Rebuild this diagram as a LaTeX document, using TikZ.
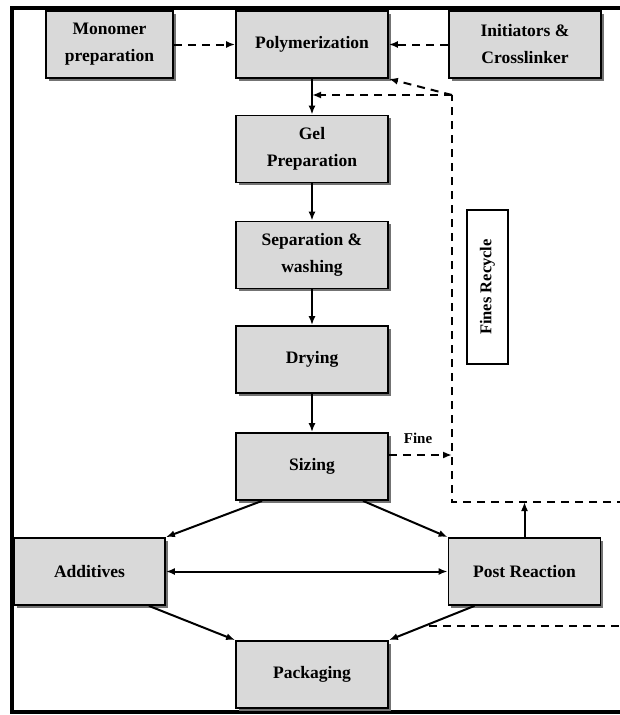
\documentclass[tikz,border=0pt]{standalone}
\usepackage{fontspec}
\setmainfont{Liberation Serif}
\usepackage{xcolor}
\usetikzlibrary{shadows,arrows.meta}
\begin{document}
\begin{tikzpicture}[x=1pt,y=-1pt,>={Latex[length=9pt,width=7pt]},
	khoi/.style={draw,line width=1.8pt,fill=gray!30,minimum width=152pt,minimum height=67pt,align=center,
		font=\bfseries\fontsize{17.5}{27}\selectfont,
		drop shadow={shadow xshift=2.5pt,shadow yshift=-2.5pt,fill=black!55,opacity=1}},
	mui/.style={->,line width=2pt},
	netdut/.style={line width=2pt,dash pattern=on 8pt off 6pt}]
			\useasboundingbox (0,0) rectangle (620,715);
			\clip (0,0) rectangle (620,715);
			% Khung
			\draw [line width=3.5pt] (12,8) rectangle (650,712);
			% Các khối
			\node [khoi,minimum width=127pt] (mono) at (109.5,44.5) {Monomer\\preparation};
			\node [khoi] (poly) at (312,44.5) {Polymerization};
			\node [khoi] (init) at (525,44.5) {Initiators \&\\Crosslinker};
			\node [khoi] (gel) at (312,149) {Gel\\Preparation};
			\node [khoi] (sep) at (312,255) {Separation \&\\washing};
			\node [khoi] (dry) at (312,359.5) {Drying};
			\node [khoi] (siz) at (312,466.5) {Sizing};
			\node [khoi,minimum width=151pt] (add) at (89.5,571.5) {Additives};
			\node [khoi] (post) at (524.5,571.5) {Post Reaction};
			\node [khoi] (pack) at (312,674.5) {Packaging};
			\node [draw,line width=1.4pt,rotate=90,minimum width=154pt,minimum height=41pt,
				font=\bfseries\fontsize{16.5}{20}\selectfont] (fines) at (487.5,287) {Fines Recycle};
			\node [font=\bfseries\fontsize{15}{18}\selectfont] (fine) at (418,438) {Fine};
			% Các điểm của vòng tuần hoàn
			\coordinate (g1) at (452,95);
			\coordinate (g2) at (452,502);
			\coordinate (g3) at (625,502);
			\coordinate (g4) at (452,455);
			\coordinate (h1) at (429,626);
			\coordinate (h2) at (625,626);
			% Mũi tên
			\draw [mui,netdut] (mono) -- (poly);
			\draw [mui,netdut] (init) -- (poly);
			\foreach \a/\b in {poly/gel,gel/sep,sep/dry,dry/siz}
			\draw [mui] (\a) -- (\b);
			\draw [mui,netdut] (siz.east |- g4) -- (g4);
			\draw [netdut] (g3) -- (g2) -- (g1);
			\draw [mui,netdut] (g1) -- (poly.south east);
			\draw [mui,netdut] (g1) -- (g1 -| poly.south);
			\draw [mui] (post) -- (post |- g2);
			\draw [mui] ([xshift=-50pt]siz.south) -- (add.north east);
			\draw [mui] ([xshift=51pt]siz.south) -- (post.north west);
			\draw [<->,line width=2pt] (add) -- (post);
			\draw [mui] ([xshift=-17pt]add.south east) -- (pack.north west);
			\draw [mui] ([xshift=-50pt]post.south) -- (pack.north east);
			\draw [netdut] (h1) -- (h2);
		\end{tikzpicture}
\end{document}
